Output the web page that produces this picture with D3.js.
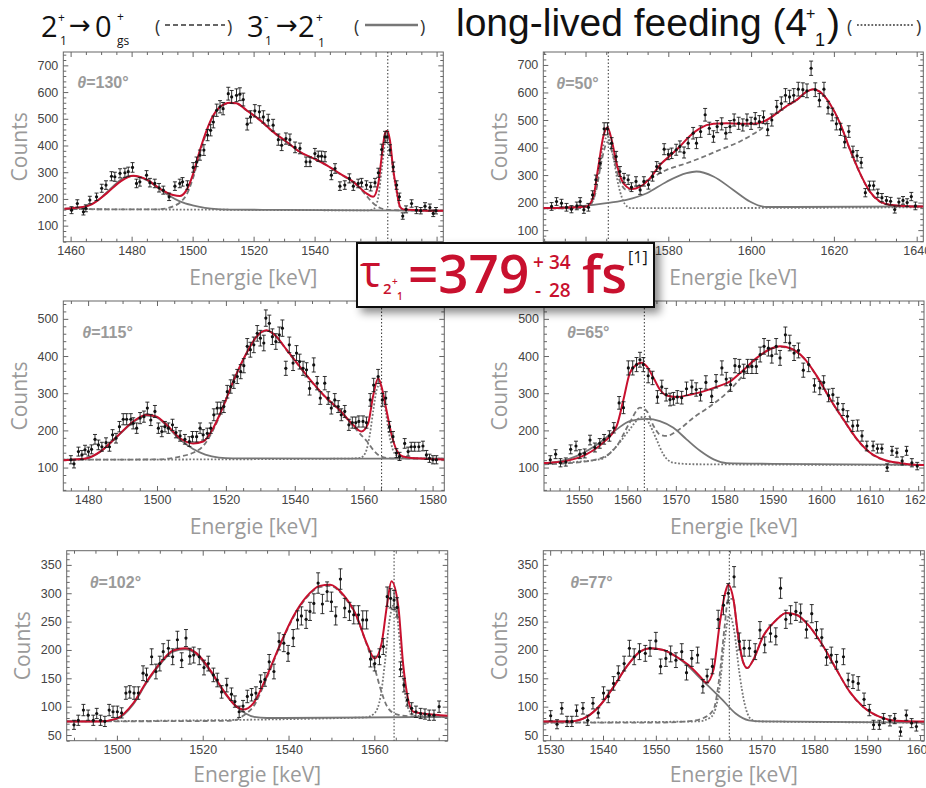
<!DOCTYPE html>
<html>
<head>
<meta charset="utf-8">
<script src="https://cdnjs.cloudflare.com/ajax/libs/d3/7.8.5/d3.min.js"></script>
<style>
  body { margin: 0; background: #fff; }
</style>
</head>
<body>
<svg id="chart" width="926" height="788"></svg>
<script>
// ---- data: [energy keV, counts, error] ----
var p130Points = [[1460.3,158,13],[1462.2,183,14],[1464.2,152,12],[1465.0,165,13],[1466.3,196,14],[1468.5,208,14],[1470.2,240,15],[1471.6,252,16],[1473.4,285,17],[1474.5,283,17],[1476.2,296,17],[1477.8,298,17],[1478.9,302,17],[1480.3,318,18],[1481.6,258,16],[1482.7,264,16],[1484.9,289,17],[1486.0,261,16],[1487.6,258,16],[1489.0,242,16],[1490.4,233,15],[1492.3,208,14],[1494.2,248,16],[1495.8,258,16],[1496.7,264,16],[1498.3,252,16],[1500.2,318,18],[1501.3,339,18],[1502.4,364,19],[1503.7,383,20],[1504.9,439,21],[1505.9,457,21],[1506.8,488,22],[1507.9,532,23],[1509.0,545,23],[1510.0,538,23],[1511.7,594,24],[1512.8,582,24],[1514.4,588,24],[1515.5,592,24],[1516.6,572,24],[1517.9,480,22],[1519.0,507,23],[1520.4,530,23],[1521.9,526,23],[1523.2,507,23],[1524.8,495,22],[1526.4,476,22],[1528.1,422,21],[1529.2,401,20],[1530.6,426,21],[1531.9,422,21],[1533.6,393,20],[1535.2,389,20],[1537.2,339,18],[1538.5,339,18],[1540.1,370,19],[1541.2,360,19],[1542.3,360,19],[1543.4,358,19],[1545.5,289,17],[1546.7,314,18],[1548.3,248,16],[1549.9,252,16],[1551.4,277,17],[1552.7,248,16],[1554.3,258,16],[1555.4,261,16],[1557.0,252,16],[1558.4,246,16],[1559.8,261,16],[1560.9,298,17],[1562.0,385,20],[1563.1,432,21],[1563.8,432,21],[1564.7,383,20],[1565.8,320,18],[1566.9,252,16],[1567.8,208,14],[1568.9,136,12],[1570.0,161,13],[1571.8,183,14],[1573.4,158,13],[1574.8,156,12],[1576.2,173,13],[1577.8,168,13],[1578.9,146,12],[1579.8,156,12]];
var p50Points = [[1551.8,186,14],[1553.0,204,14],[1554.2,198,14],[1555.4,183,14],[1556.6,176,13],[1557.9,188,14],[1558.7,204,14],[1559.6,174,13],[1560.7,183,14],[1561.7,228,15],[1562.5,283,17],[1563.5,343,18],[1564.5,468,22],[1565.3,468,22],[1566.3,416,20],[1567.4,367,19],[1568.3,313,18],[1569.3,289,17],[1570.3,283,17],[1571.1,256,16],[1572.2,277,17],[1573.2,246,16],[1574.1,277,17],[1575.2,265,16],[1576.2,295,17],[1577.2,331,18],[1578.0,325,18],[1579.0,394,20],[1580.0,375,19],[1580.8,379,19],[1581.9,392,20],[1582.8,404,20],[1583.8,382,20],[1584.8,416,20],[1586.0,452,21],[1586.8,416,20],[1587.8,458,21],[1588.9,519,23],[1589.9,470,22],[1590.9,440,21],[1591.8,476,22],[1592.9,486,22],[1593.9,452,21],[1594.9,476,22],[1595.9,500,22],[1597.0,488,22],[1598.0,482,22],[1599.0,500,22],[1600.0,488,22],[1601.0,505,22],[1602.0,494,22],[1603.0,510,23],[1604.0,465,22],[1605.0,500,22],[1606.2,548,23],[1607.3,560,24],[1608.3,590,24],[1609.3,584,24],[1610.3,590,24],[1611.4,612,25],[1612.5,610,25],[1613.5,606,25],[1614.5,688,26],[1615.5,610,25],[1616.5,572,24],[1617.6,612,25],[1618.6,545,23],[1619.6,520,23],[1620.6,486,22],[1621.6,466,22],[1622.6,420,21],[1623.6,458,21],[1624.6,385,20],[1625.6,370,19],[1626.6,345,19],[1627.6,236,15],[1628.6,262,16],[1629.6,262,16],[1630.6,234,15],[1631.6,218,15],[1632.7,208,14],[1633.7,205,14],[1634.7,175,13],[1635.7,202,14],[1636.7,208,14],[1637.7,200,14],[1638.7,222,15],[1639.7,188,14]];
var p115Points = [[1475.0,121,11],[1475.9,110,11],[1477.2,143,12],[1478.2,134,12],[1479.1,148,12],[1480.1,143,12],[1481.0,149,12],[1482.0,176,13],[1483.0,161,13],[1484.0,156,12],[1485.2,167,13],[1486.2,156,12],[1487.1,188,14],[1488.1,179,13],[1489.1,210,14],[1490.2,230,15],[1491.2,230,15],[1492.4,230,15],[1493.1,219,15],[1494.1,206,14],[1495.1,233,15],[1496.2,237,15],[1497.2,260,16],[1498.2,228,15],[1499.4,251,16],[1500.4,206,14],[1501.4,197,14],[1502.3,210,14],[1503.3,206,14],[1504.5,215,15],[1505.5,194,14],[1506.7,185,14],[1508.1,176,13],[1509.4,170,13],[1510.3,183,14],[1511.5,183,14],[1512.5,206,14],[1513.4,188,14],[1514.6,192,14],[1515.6,206,14],[1516.5,242,16],[1517.5,260,16],[1518.5,260,16],[1519.4,264,16],[1520.4,304,17],[1521.4,318,18],[1522.3,331,18],[1523.3,345,19],[1524.3,358,19],[1525.2,374,19],[1526.2,426,21],[1527.1,417,20],[1528.1,430,21],[1529.1,461,21],[1530.0,448,21],[1531.0,435,21],[1531.6,502,22],[1532.6,488,22],[1533.5,452,21],[1534.5,439,21],[1535.5,457,21],[1536.4,475,22],[1537.4,367,19],[1538.4,430,21],[1539.5,381,20],[1540.5,408,20],[1541.4,385,20],[1542.4,367,19],[1543.4,363,19],[1544.3,313,18],[1545.5,376,19],[1546.5,327,18],[1547.4,287,17],[1548.7,327,18],[1549.7,287,17],[1550.6,260,16],[1551.6,282,17],[1552.6,264,16],[1553.5,242,16],[1554.5,251,16],[1555.7,215,15],[1556.7,221,15],[1557.7,221,15],[1558.6,224,15],[1559.8,224,15],[1560.8,221,15],[1561.9,282,17],[1562.9,322,18],[1564.2,345,19],[1565.4,282,17],[1566.4,287,17],[1567.5,210,14],[1568.5,183,14],[1569.5,139,12],[1570.4,130,11],[1571.9,165,13],[1572.9,143,12],[1573.8,156,12],[1574.8,156,12],[1576.0,156,12],[1577.2,158,13],[1578.2,134,12],[1579.1,125,11],[1580.1,121,11],[1581.1,121,11]];
var p65Points = [[1544.1,121,11],[1545.2,136,12],[1546.2,113,11],[1547.3,115,11],[1548.3,149,12],[1549.4,158,13],[1550.2,136,12],[1551.2,138,12],[1552.3,174,13],[1553.3,154,12],[1554.3,165,13],[1555.2,176,13],[1556.3,185,14],[1557.2,207,14],[1558.3,274,17],[1559.2,261,16],[1560.2,368,19],[1561.1,368,19],[1561.9,377,19],[1562.6,390,20],[1563.3,377,19],[1564.3,347,19],[1565.2,341,18],[1566.2,290,17],[1567.1,317,18],[1568.0,296,17],[1568.8,283,17],[1569.5,285,17],[1570.3,290,17],[1571.2,288,17],[1572.2,312,18],[1573.3,317,18],[1574.2,310,18],[1575.1,296,17],[1576.2,329,18],[1577.4,292,17],[1578.3,332,18],[1579.5,368,19],[1580.4,338,18],[1581.3,323,18],[1582.2,374,19],[1583.1,372,19],[1584.0,359,19],[1584.8,372,19],[1585.7,372,19],[1586.6,372,19],[1587.4,404,20],[1588.2,426,21],[1589.1,421,21],[1589.8,401,20],[1590.7,426,21],[1591.5,395,20],[1592.6,457,21],[1593.5,435,21],[1594.4,408,20],[1595.3,415,20],[1596.3,362,19],[1597.4,377,19],[1598.6,321,18],[1599.7,314,18],[1600.5,329,18],[1601.5,294,17],[1602.4,296,17],[1603.4,272,17],[1604.5,256,16],[1605.4,238,15],[1606.5,212,15],[1607.5,213,15],[1608.4,185,14],[1609.4,158,13],[1610.7,158,13],[1611.6,151,12],[1612.5,151,12],[1613.6,100,10],[1614.6,145,12],[1615.6,140,12],[1616.7,118,11],[1617.6,145,12],[1618.7,113,11],[1619.8,104,10]];
var p102Points = [[1490.0,68,8],[1491.0,76,9],[1492.2,94,10],[1493.3,85,9],[1494.5,76,9],[1495.3,88,9],[1496.2,76,9],[1497.2,74,9],[1498.2,94,10],[1499.1,91,10],[1500.1,91,10],[1501.1,89,9],[1502.1,124,11],[1503.0,126,11],[1504.0,124,11],[1505.0,124,11],[1506.1,159,13],[1506.9,156,12],[1508.1,188,14],[1509.1,162,13],[1510.0,176,13],[1510.8,197,14],[1512.0,203,14],[1513.0,188,14],[1514.1,218,15],[1515.1,182,13],[1516.1,221,15],[1517.0,189,14],[1517.9,191,14],[1519.2,188,14],[1520.3,169,13],[1521.3,176,13],[1522.5,156,12],[1523.4,147,12],[1524.4,126,11],[1525.6,138,12],[1526.7,122,11],[1527.5,109,10],[1528.5,91,10],[1529.4,101,10],[1530.4,118,11],[1531.4,121,11],[1532.4,124,11],[1533.5,144,12],[1534.5,148,12],[1535.5,179,13],[1536.6,162,13],[1537.8,215,15],[1538.9,212,15],[1539.9,194,14],[1541.1,221,15],[1542.1,253,16],[1543.0,260,16],[1544.1,254,16],[1545.0,268,16],[1545.9,282,17],[1546.9,318,18],[1547.9,281,17],[1549.0,303,17],[1550.0,285,17],[1551.0,260,16],[1552.1,325,18],[1553.1,274,17],[1554.2,268,16],[1555.2,262,16],[1556.3,262,16],[1557.3,253,16],[1558.2,253,16],[1559.1,184,14],[1560.1,176,13],[1561.2,188,14],[1562.1,206,14],[1563.0,294,17],[1563.8,291,17],[1564.6,288,17],[1565.3,275,17],[1566.1,166,13],[1566.9,138,12],[1567.7,112,11],[1568.7,97,10],[1569.7,91,10],[1570.8,88,9],[1571.8,87,9],[1572.8,85,9],[1573.9,85,9],[1575.1,100,10]];
var p77Points = [[1530.1,84,9],[1531.3,69,8],[1532.2,97,10],[1533.2,74,9],[1534.1,74,9],[1535.0,93,10],[1536.2,97,10],[1537.1,76,9],[1538.1,106,10],[1539.1,89,9],[1540.1,124,11],[1541.0,118,11],[1542.0,141,12],[1542.9,159,13],[1544.0,176,13],[1545.0,203,14],[1545.9,188,14],[1546.9,197,14],[1548.0,194,14],[1548.9,203,14],[1550.0,216,15],[1550.9,171,13],[1551.9,185,14],[1552.8,193,14],[1553.8,182,13],[1554.9,197,14],[1555.8,160,13],[1556.8,185,14],[1557.9,191,14],[1558.9,136,12],[1559.7,154,12],[1560.7,171,13],[1561.8,254,16],[1562.8,279,17],[1563.7,300,17],[1564.8,329,18],[1565.8,215,15],[1566.7,203,14],[1567.7,203,14],[1568.8,197,14],[1569.7,235,15],[1570.6,209,14],[1571.7,229,15],[1572.7,224,15],[1573.6,309,18],[1574.6,254,16],[1575.5,262,16],[1576.5,268,16],[1577.4,265,16],[1578.5,236,15],[1579.5,264,16],[1580.4,235,15],[1581.4,222,15],[1582.3,187,14],[1583.2,191,14],[1584.2,179,13],[1585.5,188,14],[1586.4,147,12],[1587.3,144,12],[1588.3,141,12],[1589.4,113,11],[1590.4,94,10],[1591.2,68,8],[1592.3,68,8],[1593.1,79,9],[1594.3,75,9],[1595.2,79,9],[1596.3,56,8],[1597.4,85,9],[1598.4,71,8],[1599.3,65,8]];

// ---- fit curves: [energy, counts] ----
var p130Total = [[1458,163],[1460.3,165],[1466.3,177],[1471.8,221],[1476.2,264],[1480.5,287],[1484.9,273],[1489.2,239],[1493.6,215],[1495.8,211],[1498,233],[1500.2,295],[1502.4,383],[1504.6,457],[1506.8,513],[1509,545],[1512.3,560],[1514.4,558],[1517.7,532],[1522.1,495],[1526.4,451],[1530.8,414],[1535.2,376],[1539.6,352],[1543.9,327],[1548.3,295],[1552.7,264],[1557,221],[1559.2,208],[1560.9,258],[1562,358],[1563.1,445],[1563.8,455],[1564.7,420],[1565.8,308],[1566.9,233],[1568,171],[1569.1,161],[1573.4,158],[1580,156],[1582.2,156]];
var p130Side = [[1458,164],[1462,166],[1466,176],[1470,205],[1474,248],[1477,276],[1480.5,286],[1484,276],[1488,248],[1492,215],[1496,190],[1500,176],[1504,167],[1508,162],[1514,160],[1530,159],[1560,157],[1582.2,156]];
var p130Gs = [[1458,162],[1488,161],[1492,166],[1494,174],[1496,188],[1498,216],[1500.2,280],[1502.4,372],[1504.6,450],[1506.8,510],[1509,543],[1512.3,559],[1514.4,557],[1517.7,531],[1522.1,494],[1526.4,450],[1530.8,413],[1535.2,375],[1539.6,351],[1543.9,326],[1548.3,293],[1552.7,262],[1555,238],[1557,212],[1558.5,192],[1560,176],[1561.5,166],[1563,161],[1566,158],[1582.2,156]];
var p130Feed = [[1458,162],[1540,158],[1557,157],[1559,160],[1560,172],[1561,215],[1562,310],[1563.1,410],[1563.8,440],[1564.7,405],[1565.8,300],[1566.9,225],[1568,168],[1569.1,159],[1572,157],[1582.2,156]];

var p50Total = [[1549.8,180],[1551.8,180],[1556,182],[1560.3,186],[1561.9,222],[1563.1,331],[1564.3,440],[1565.3,474],[1566.3,428],[1567.5,343],[1568.7,283],[1569.9,258],[1571.1,249],[1573.2,258],[1575.6,289],[1578,337],[1580.4,370],[1582.8,404],[1585.2,442],[1587.6,470],[1590.9,486],[1594.1,488],[1597.3,486],[1600.5,486],[1603.8,500],[1606.2,525],[1608.6,551],[1611,573],[1613.4,603],[1615,612],[1616.6,603],[1619,560],[1621.5,488],[1623.9,392],[1626.3,307],[1628.7,240],[1631.1,204],[1633.5,192],[1636.8,188],[1640,186],[1641.6,186]];
var p50Side = [[1549.8,180],[1555,183],[1561.9,192],[1566,200],[1569.9,210],[1574.8,234],[1579.6,276],[1584.4,307],[1586.8,313],[1590.9,295],[1595.7,246],[1599.7,204],[1602.1,188],[1603.8,184],[1610,184],[1641.6,186]];
var p50Gs = [[1549.8,179],[1558,180],[1561,190],[1562.5,240],[1564,360],[1565.3,420],[1566.5,380],[1568,290],[1570,246],[1574.8,280],[1579.6,319],[1584.4,343],[1587.6,361],[1592.5,392],[1597.3,422],[1600.5,449],[1602.9,474],[1604.5,505],[1606.2,524],[1608.6,550],[1611,572],[1613.4,602],[1615,611],[1616.6,602],[1619,559],[1621.5,487],[1623.9,391],[1626.3,306],[1628.7,239],[1631.1,203],[1633.5,191],[1636.8,187],[1641.6,186]];
var p50Feed = [[1549.8,179],[1559,180],[1561,190],[1562.5,250],[1564,390],[1565.3,440],[1566.5,380],[1568,260],[1569.5,195],[1571,180],[1580,180],[1641.6,183]];

var p115Total = [[1472.8,120],[1475,121],[1479.6,125],[1483.5,143],[1488.3,183],[1493.1,224],[1497,242],[1499.9,237],[1502.8,215],[1506.7,179],[1510.5,165],[1513.4,170],[1516.3,206],[1519.2,264],[1522.1,331],[1526,408],[1528.9,452],[1531.8,469],[1534.7,452],[1537.6,417],[1541.4,372],[1545.3,327],[1549.2,287],[1553,255],[1556.9,215],[1559.3,197],[1561.3,219],[1562.7,291],[1564.2,340],[1565.1,320],[1566.6,255],[1568,192],[1569.5,148],[1571.4,130],[1575.3,125],[1583.4,122]];
var p115Side = [[1472.8,120],[1475,121],[1479.6,125],[1483.5,142],[1488.3,182],[1493.1,222],[1497,240],[1499.9,235],[1502.8,212],[1506.7,175],[1510.5,150],[1514,135],[1518,127],[1522,125],[1583.4,124]];
var p115Gs = [[1472.8,121],[1500,122],[1504,125],[1507,130],[1510.5,140],[1513.4,158],[1516.3,201],[1519.2,262],[1522.1,330],[1526,407],[1528.9,451],[1531.8,468],[1534.7,451],[1537.6,416],[1541.4,371],[1545.3,326],[1549.2,286],[1553,253],[1556.9,212],[1559,190],[1561,170],[1563,145],[1565,130],[1568,125],[1583.4,124]];
var p115Feed = [[1472.8,121],[1555,124],[1559,126],[1560.5,140],[1561.8,190],[1562.8,255],[1563.8,310],[1564.6,322],[1565.4,300],[1566.4,250],[1567.4,190],[1568.4,150],[1569.5,132],[1571,126],[1583.4,124]];

var p65Total = [[1542.8,112],[1544.1,113],[1547.5,118],[1551.6,136],[1555,167],[1557.8,212],[1559.2,283],[1560.5,354],[1561.9,377],[1562.9,382],[1564,372],[1565.4,341],[1566.7,310],[1568.1,294],[1570.2,290],[1572.9,296],[1575.7,305],[1578.4,317],[1581.2,332],[1584,363],[1586.7,395],[1589.5,419],[1591.5,426],[1593.6,421],[1596.4,395],[1599.1,346],[1601.9,283],[1604.6,229],[1607.4,176],[1610.1,140],[1612.9,121],[1616.3,112],[1619.8,107],[1621.2,107]];
var p65Side = [[1542.8,112],[1544.1,113],[1549.5,131],[1554.3,167],[1557.8,203],[1560.5,225],[1564,231],[1566.7,225],[1569.5,207],[1572.2,176],[1575,145],[1577.8,122],[1580.5,112],[1590,110],[1621.2,107]];
var p65Gs = [[1542.8,109],[1548,112],[1554.3,124],[1557.8,158],[1560.5,221],[1562.6,261],[1564,252],[1565.4,212],[1566.7,189],[1568.1,185],[1570.2,198],[1573.6,234],[1577.1,265],[1580.5,301],[1584,350],[1586.7,394],[1589.5,418],[1591.5,425],[1593.6,420],[1596.4,394],[1599.1,345],[1601.9,282],[1604.6,228],[1607.4,175],[1610.1,139],[1612.9,120],[1616.3,111],[1621.2,107]];
var p65Feed = [[1542.8,111],[1554.3,122],[1557.8,158],[1560.5,203],[1562.6,234],[1563.6,237],[1564.6,216],[1566,176],[1567.4,136],[1569.5,113],[1573.6,109],[1621.2,107]];

var p102Total = [[1488.3,74],[1490,74],[1496,74],[1499.9,79],[1503.8,106],[1506.9,144],[1510,176],[1513.1,199],[1515.9,203],[1518.6,194],[1521.7,165],[1524.8,129],[1527.9,100],[1529.4,95],[1531.8,106],[1534.9,153],[1538,209],[1541.1,259],[1544.2,294],[1547.3,313],[1549.7,315],[1552.8,297],[1555.9,259],[1558.2,212],[1560.1,185],[1561.7,212],[1562.9,276],[1564,321],[1565.6,276],[1566.7,176],[1567.9,112],[1569.1,91],[1571.4,88],[1575.3,85],[1577.1,84]];
var p102Side = [[1488.3,74],[1496,74],[1499.9,78],[1503.8,104],[1506.9,142],[1510,174],[1513.1,197],[1515.9,201],[1518.6,192],[1521.7,163],[1524.8,127],[1527.9,100],[1530,88],[1532,82],[1535,80],[1577.1,82]];
var p102Gs = [[1488.3,74],[1526,75],[1528,77],[1529.4,84],[1531.8,100],[1534.9,150],[1538,207],[1541.1,257],[1544.2,292],[1547.3,311],[1549.7,313],[1552.8,295],[1555.9,257],[1558.2,210],[1560,170],[1561.5,130],[1563,100],[1565,87],[1568,83],[1577.1,82]];
var p102Feed = [[1488.3,74],[1558,81],[1560,88],[1561.5,120],[1562.5,180],[1563.5,250],[1564.4,278],[1565.3,260],[1566.2,190],[1567.1,125],[1568,95],[1569.5,84],[1577.1,82]];

var p77Total = [[1528.7,74],[1530.1,74],[1533.8,74],[1536.9,82],[1539.5,103],[1542,135],[1544.5,171],[1547,197],[1548.9,203],[1551.4,200],[1553.9,188],[1556.5,171],[1558.4,153],[1559.6,142],[1560.9,165],[1562.1,247],[1563.1,300],[1563.7,315],[1564.7,288],[1565.6,224],[1566.5,179],[1567.3,168],[1568.4,182],[1570.3,224],[1572.8,253],[1574.7,265],[1576.6,262],[1579.1,241],[1581.7,206],[1584.2,165],[1586.7,126],[1589.2,100],[1592.4,82],[1595.5,75],[1599.3,74],[1600.8,74]];
var p77Side = [[1528.7,74],[1533.8,74],[1536.9,82],[1539.5,103],[1542,135],[1544.5,171],[1547,197],[1548.9,203],[1551.4,200],[1553.9,188],[1556.5,168],[1558.4,150],[1560.1,135],[1562.6,112],[1565.1,88],[1567.6,76],[1570,74],[1600.8,72]];
var p77Gs = [[1528.7,72],[1550,72],[1556,74],[1559,80],[1560.9,95],[1562,150],[1563,240],[1563.7,290],[1564.6,290],[1565.5,224],[1566.5,179],[1567.3,168],[1568.4,182],[1570.3,224],[1572.8,253],[1574.7,265],[1576.6,262],[1579.1,241],[1581.7,206],[1584.2,165],[1586.7,126],[1589.2,100],[1592.4,82],[1595.5,75],[1600.8,73]];
var p77Feed = [[1528.7,72],[1558,74],[1560.5,82],[1562,130],[1563,215],[1563.9,262],[1564.8,235],[1565.8,160],[1566.8,105],[1567.8,80],[1569,74],[1600.8,72]];

// ---- tick labels ----
var ticks130 = [1460, 1480, 1500, 1520, 1540, 1560, 1580];
var ticks50 = [1560, 1580, 1600, 1620, 1640];
var ticks115 = [1480, 1500, 1520, 1540, 1560, 1580];
var ticks65 = [1550, 1560, 1570, 1580, 1590, 1600, 1610, 1620];
var ticks102 = [1500, 1520, 1540, 1560];
var ticks77 = [1530, 1540, 1550, 1560, 1570, 1580, 1590, 1600];
var countTicksTop = [100, 200, 300, 400, 500, 600, 700];
var countTicksMid = [100, 200, 300, 400, 500];
var countTicksLow = [50, 100, 150, 200, 250, 300, 350];
// labels that sit under the lifetime box in the original
var hidden130 = [1560, 1580];
var hidden50 = [1560];
var angles = ['130', '50', '115', '65', '102', '77'];
var markerEnergy = [1564.0, 1565.5, 1565.2, 1563.5, 1564.6, 1563.9];

var config = {
  red: '#c8102e',
  component: '#767676',
  frame: '#666',
  tickText: '#444',
  titleText: '#9a9a9a',
  majorTick: 5,
  minorTick: 3
};

var panels = [
  {points: p130Points, total: p130Total, side: p130Side, gs: p130Gs, feed: p130Feed, xTicks: ticks130, hide: hidden130, xMinor: 5, yTicks: countTicksTop, yMinor: 20,
   xDomain: [1457.6, 1582.2], yDomain: [40, 750], left: 63.3, top: 52, width: 380, height: 189.7, labelDx: 14, labelDy: 30, titleDy: 36},
  {points: p50Points, total: p50Total, side: p50Side, gs: p50Gs, feed: p50Feed, xTicks: ticks50, hide: hidden50, xMinor: 5, yTicks: countTicksTop, yMinor: 20,
   xDomain: [1549.8, 1641.6], yDomain: [58, 747], left: 543.3, top: 52, width: 380, height: 189.7, labelDx: 13, labelDy: 31, titleDy: 36},
  {points: p115Points, total: p115Total, side: p115Side, gs: p115Gs, feed: p115Feed, xTicks: ticks115, hide: [], xMinor: 5, yTicks: countTicksMid, yMinor: 20,
   xDomain: [1472.8, 1583.4], yDomain: [37, 548], left: 63.3, top: 301, width: 381, height: 190, labelDx: 19, labelDy: 31, titleDy: 36},
  {points: p65Points, total: p65Total, side: p65Side, gs: p65Gs, feed: p65Feed, xTicks: ticks65, hide: [], xMinor: 2, yTicks: countTicksMid, yMinor: 20,
   xDomain: [1542.8, 1621.2], yDomain: [37, 548], left: 544, top: 301, width: 380, height: 190, labelDx: 23, labelDy: 31, titleDy: 36},
  {points: p102Points, total: p102Total, side: p102Side, gs: p102Gs, feed: p102Feed, xTicks: ticks102, hide: [], xMinor: 5, yTicks: countTicksLow, yMinor: 10,
   xDomain: [1488.3, 1577.1], yDomain: [40, 375], left: 66.7, top: 550.7, width: 381, height: 190, labelDx: 23, labelDy: 32, titleDy: 33.5},
  {points: p77Points, total: p77Total, side: p77Side, gs: p77Gs, feed: p77Feed, xTicks: ticks77, hide: [], xMinor: 2, yTicks: countTicksLow, yMinor: 10,
   xDomain: [1528.7, 1600.8], yDomain: [40, 375], left: 543.3, top: 550.7, width: 381, height: 190, labelDx: 27, labelDy: 32, titleDy: 33.5}
];

var svg = d3.select('#chart');
var defs = svg.append('defs');

var shadow = defs.append('filter').attr('id', 'boxShadow')
  .attr('x', '-10%').attr('y', '-20%').attr('width', '130%').attr('height', '160%');
shadow.append('feDropShadow')
  .attr('dx', 5).attr('dy', 5).attr('stdDeviation', 4)
  .attr('flood-color', '#000').attr('flood-opacity', 0.45);

function minorValues(domain, step, majors) {
  var start = Math.ceil(domain[0] / step) * step;
  return d3.range(start, domain[1] + 1e-6, step).filter(function(v) {
    return majors.indexOf(v) < 0;
  });
}

function styleAxis(sel) {
  sel.select('.domain').remove();
  sel.selectAll('.tick line').attr('stroke', config.frame);
  sel.selectAll('.tick text')
    .attr('fill', config.tickText)
    .style('font-family', '"Liberation Sans", Arial, sans-serif')
    .style('font-size', '12.5px');
}

panels.forEach(function(p, i) {
  var x = d3.scaleLinear().domain(p.xDomain).range([0, p.width]);
  var y = d3.scaleLinear().domain(p.yDomain).range([p.height, 0]);

  var g = svg.append('g')
    .attr('transform', 'translate(' + p.left + ',' + p.top + ')');

  defs.append('clipPath').attr('id', 'clip' + i)
    .append('rect').attr('width', p.width).attr('height', p.height);

  // axes: major + minor ticks on every side, pointing inward
  var xMin = minorValues(p.xDomain, p.xMinor, p.xTicks);
  var yMin = minorValues(p.yDomain, p.yMinor, p.yTicks);
  var xFormat = function(d) { return p.hide.indexOf(d) >= 0 ? '' : d3.format('d')(d); };

  g.append('g').attr('transform', 'translate(0,' + p.height + ')')
    .call(d3.axisBottom(x).tickValues(p.xTicks).tickSize(-config.majorTick).tickPadding(4).tickFormat(xFormat))
    .call(styleAxis);
  g.append('g').attr('transform', 'translate(0,' + p.height + ')')
    .call(d3.axisBottom(x).tickValues(xMin).tickSize(-config.minorTick).tickFormat(''))
    .call(styleAxis);
  g.append('g')
    .call(d3.axisTop(x).tickValues(p.xTicks).tickSize(-config.majorTick).tickFormat(''))
    .call(styleAxis);
  g.append('g')
    .call(d3.axisTop(x).tickValues(xMin).tickSize(-config.minorTick).tickFormat(''))
    .call(styleAxis);
  g.append('g')
    .call(d3.axisLeft(y).tickValues(p.yTicks).tickSize(-config.majorTick).tickPadding(5).tickFormat(d3.format('d')))
    .call(styleAxis);
  g.append('g')
    .call(d3.axisLeft(y).tickValues(yMin).tickSize(-config.minorTick).tickFormat(''))
    .call(styleAxis);
  g.append('g').attr('transform', 'translate(' + p.width + ',0)')
    .call(d3.axisRight(y).tickValues(p.yTicks).tickSize(-config.majorTick).tickFormat(''))
    .call(styleAxis);
  g.append('g').attr('transform', 'translate(' + p.width + ',0)')
    .call(d3.axisRight(y).tickValues(yMin).tickSize(-config.minorTick).tickFormat(''))
    .call(styleAxis);

  g.append('rect')
    .attr('width', p.width).attr('height', p.height)
    .attr('fill', 'none').attr('stroke', config.frame).attr('stroke-width', 1);

  var plot = g.append('g').attr('clip-path', 'url(#clip' + i + ')');

  plot.append('line')
    .attr('x1', x(markerEnergy[i])).attr('x2', x(markerEnergy[i]))
    .attr('y1', 0).attr('y2', p.height)
    .attr('stroke', '#333').attr('stroke-width', 1)
    .attr('stroke-dasharray', '1.5,2');

  var line = d3.line()
    .x(function(d) { return x(d[0]); })
    .y(function(d) { return y(d[1]); })
    .curve(d3.curveMonotoneX);

  plot.append('path').attr('d', line(p.feed))
    .attr('fill', 'none').attr('stroke', config.component).attr('stroke-width', 1.8)
    .attr('stroke-dasharray', '1.8,1.8');
  plot.append('path').attr('d', line(p.side))
    .attr('fill', 'none').attr('stroke', config.component).attr('stroke-width', 1.8);
  plot.append('path').attr('d', line(p.gs))
    .attr('fill', 'none').attr('stroke', config.component).attr('stroke-width', 1.8)
    .attr('stroke-dasharray', '5,3');

  plot.append('path').attr('d', line(p.total))
    .attr('fill', 'none').attr('stroke', config.red).attr('stroke-width', 2);

  var pts = plot.append('g').selectAll('g').data(p.points).enter().append('g');
  pts.append('line')
    .attr('x1', function(d) { return x(d[0]); }).attr('x2', function(d) { return x(d[0]); })
    .attr('y1', function(d) { return y(d[1] - d[2]); }).attr('y2', function(d) { return y(d[1] + d[2]); })
    .attr('stroke', '#1a1a1a').attr('stroke-width', 0.9);
  [-1, 1].forEach(function(s) {
    pts.append('line')
      .attr('x1', function(d) { return x(d[0]) - 2; }).attr('x2', function(d) { return x(d[0]) + 2; })
      .attr('y1', function(d) { return y(d[1] + s * d[2]); }).attr('y2', function(d) { return y(d[1] + s * d[2]); })
      .attr('stroke', '#1a1a1a').attr('stroke-width', 0.9);
  });
  pts.append('circle')
    .attr('cx', function(d) { return x(d[0]); }).attr('cy', function(d) { return y(d[1]); })
    .attr('r', 1.6).attr('fill', '#111');

  // angle label
  var t = g.append('text')
    .attr('x', p.labelDx).attr('y', p.labelDy + 5.5)
    .attr('fill', config.titleText)
    .style('font-family', '"Liberation Sans", Arial, sans-serif')
    .style('font-size', '16px').style('font-weight', 'bold');
  t.append('tspan').style('font-style', 'italic').text('\u03b8');
  t.append('tspan').text('=' + angles[i] + '\u00b0');

  // axis titles
  g.append('text')
    .attr('x', p.width / 2).attr('y', p.height + p.titleDy).attr('dy', '0.35em')
    .attr('text-anchor', 'middle').attr('fill', config.titleText)
    .style('font-family', '"Open Sans", sans-serif').style('font-size', '21px')
    .text('Energie [keV]');
  g.append('text')
    .attr('transform', 'translate(-44,' + (p.height / 2) + ') rotate(-90)')
    .attr('dy', '0.35em')
    .attr('text-anchor', 'middle').attr('fill', config.titleText)
    .style('font-family', '"Open Sans", sans-serif').style('font-size', '21px')
    .text('Counts');
});

// ---- header legend ----
var head = svg.append('g').style('font-family', '"Open Sans", sans-serif');
function htext(x, y, size, str, family) {
  var el = head.append('text').attr('x', x).attr('y', y).attr('fill', '#111')
    .style('font-size', size + 'px').text(str);
  if (family) el.style('font-family', family);
  return el;
}
htext(41, 37, 29, '2');
htext(58, 22, 12, '+');
htext(60, 45, 12, '1');
htext(69, 34, 26, '\u2192', '"DejaVu Sans", sans-serif');
htext(95, 37, 29, '0');
htext(117, 21, 12, '+');
htext(117, 45, 12, 'gs');
htext(155, 33, 18, '(').attr('fill', '#333');
head.append('line').attr('x1', 165).attr('x2', 225).attr('y1', 25).attr('y2', 25)
  .attr('stroke', '#666').attr('stroke-width', 1.8).attr('stroke-dasharray', '5,3');
htext(227, 33, 18, ')').attr('fill', '#333');

htext(247, 37, 29, '3');
htext(264, 22, 14, '-');
htext(265, 45, 12, '1');
htext(276, 34, 26, '\u2192', '"DejaVu Sans", sans-serif');
htext(298, 37, 29, '2');
htext(316, 22, 12, '+');
htext(318, 47, 12, '1');
htext(354, 33, 18, '(').attr('fill', '#333');
head.append('line').attr('x1', 365).attr('x2', 418).attr('y1', 25).attr('y2', 25)
  .attr('stroke', '#777').attr('stroke-width', 2.5);
htext(420, 33, 18, ')').attr('fill', '#333');

htext(456, 36, 39, 'long-lived feeding (4', '"Liberation Sans", Arial, sans-serif');
htext(806, 19, 16, '+', '"Liberation Sans", Arial, sans-serif');
htext(815, 46, 18, '1', '"Liberation Sans", Arial, sans-serif');
htext(827, 36, 39, ')', '"Liberation Sans", Arial, sans-serif');
htext(847, 33, 18, '(').attr('fill', '#333');
head.append('line').attr('x1', 857).attr('x2', 914).attr('y1', 25).attr('y2', 25)
  .attr('stroke', '#666').attr('stroke-width', 1.8).attr('stroke-dasharray', '1.8,1.8');
htext(916, 33, 18, ')').attr('fill', '#333');

// ---- lifetime box ----
var box = svg.append('g');
box.append('rect')
  .attr('x', 357).attr('y', 243).attr('width', 297).attr('height', 64)
  .attr('fill', '#fff').attr('stroke', '#111').attr('stroke-width', 2)
  .attr('filter', 'url(#boxShadow)');
var bt = box.append('g').attr('fill', config.red)
  .style('font-family', '"Open Sans", sans-serif').style('font-weight', 600);
bt.append('text').attr('x', 360).attr('y', 287).style('font-size', '44px').style('font-weight', 400).text('\u03c4');
bt.append('text').attr('x', 383).attr('y', 294).style('font-size', '15px').text('2');
bt.append('text').attr('x', 392).attr('y', 285).style('font-size', '10px').text('+');
bt.append('text').attr('x', 397).attr('y', 300).style('font-size', '10px').text('1');
bt.append('text').attr('x', 408).attr('y', 293).style('font-size', '53px').text('=379');
bt.append('text').attr('x', 533).attr('y', 269).style('font-size', '19px').text('+');
bt.append('text').attr('x', 549).attr('y', 269).style('font-size', '19px').text('34');
bt.append('text').attr('x', 535).attr('y', 297).style('font-size', '19px').text('-');
bt.append('text').attr('x', 549).attr('y', 297).style('font-size', '19px').text('28');
bt.append('text').attr('x', 582).attr('y', 293).style('font-size', '53px').text('fs');
box.append('text').attr('x', 628).attr('y', 263).attr('fill', '#111')
  .style('font-family', '"Open Sans", sans-serif').style('font-size', '16px').text('[1]');
</script>
</body>
</html>
